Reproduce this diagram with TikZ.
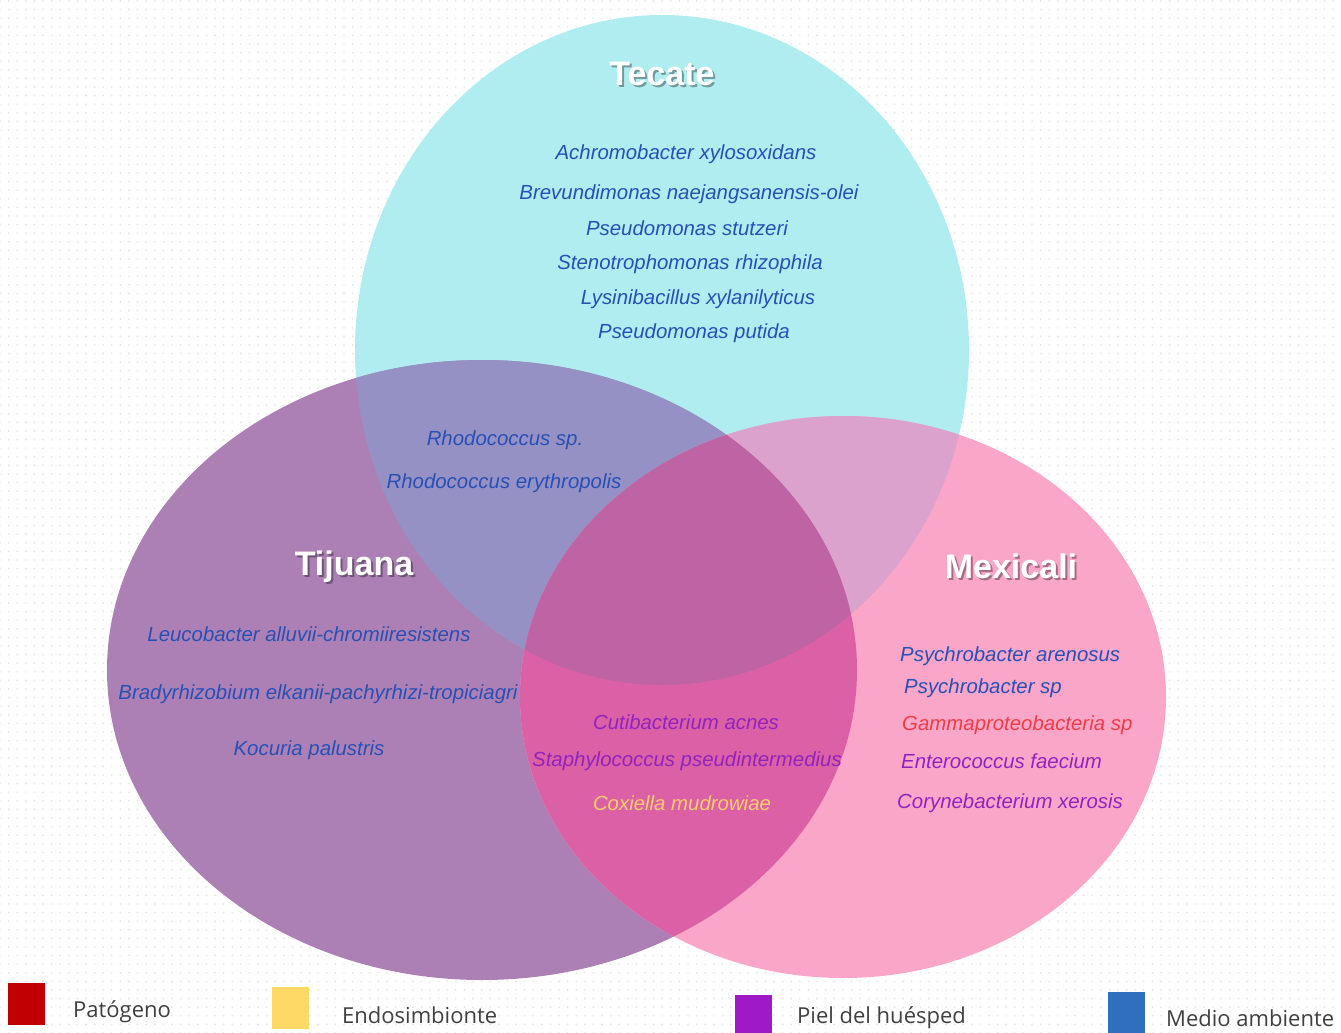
\documentclass[tikz,border=0pt]{standalone}
\usepackage{fontspec}
\setmainfont{Liberation Sans}
\newfontfamily\legendfont{Open Sans}
\usetikzlibrary{patterns.meta}

% region fills
\definecolor{tecfill}{RGB}{176,237,240}
\definecolor{tijfill}{RGB}{172,128,180}
\definecolor{mexfill}{RGB}{250,166,201}
\definecolor{tectij}{RGB}{150,145,196}
\definecolor{tecmex}{RGB}{220,162,206}
\definecolor{tijmex}{RGB}{220,96,165}
\definecolor{tripfill}{RGB}{190,100,165}
% category colours
\definecolor{envblue}{RGB}{40,80,180}
\definecolor{skinpurple}{RGB}{145,35,190}
\definecolor{pathred}{RGB}{240,60,70}
\definecolor{endoyellow}{RGB}{255,205,110}
\definecolor{legred}{RGB}{192,0,0}
\definecolor{legyellow}{RGB}{255,217,102}
\definecolor{legpurple}{RGB}{160,25,200}
\definecolor{legblue}{RGB}{48,110,190}
\definecolor{legtext}{RGB}{64,64,64}
\definecolor{dotgray}{RGB}{228,228,228}

\tikzset{
  species/.style={inner sep=0pt, font=\fontsize{20.4}{24}\itshape\selectfont},
  sitetitle/.style={inner sep=0pt, text=white, font=\fontsize{34}{40}\bfseries\selectfont},
  siteshadow/.style={inner sep=0pt, text=black, opacity=0.35, font=\fontsize{34}{40}\bfseries\selectfont},
  swatch/.style={inner sep=0pt, minimum width=37pt, minimum height=42pt},
  legendlabel/.style={inner sep=0pt, anchor=west, text=legtext, font=\legendfont\fontsize{22}{26}\selectfont},
}

\def\tecate{(662,350) ellipse [x radius=307pt, y radius=335pt]}
\def\tijuana{(482,670) ellipse [x radius=375pt, y radius=310pt]}
\def\mexicali{(843,697) ellipse [x radius=323pt, y radius=281pt]}

\begin{document}
\begin{tikzpicture}[x=1pt,y=-1pt]
\useasboundingbox (0,0) rectangle (1341,1033);
% dotted backdrop
\fill[white] (0,0) rectangle (1341,1033);
\fill[pattern={Dots[distance=8.6pt,radius=0.9pt]}, pattern color=dotgray] (0,0) rectangle (1341,1033);

% the three sets
\fill[tecfill] \tecate;
\fill[tijfill] \tijuana;
\fill[mexfill] \mexicali;
\begin{scope}
  \clip \tecate;
  \fill[tectij] \tijuana;
  \fill[tecmex] \mexicali;
\end{scope}
\begin{scope}
  \clip \tijuana;
  \fill[tijmex] \mexicali;
\end{scope}
\begin{scope}
  \clip \tecate;
  \clip \tijuana;
  \fill[tripfill] \mexicali;
\end{scope}

% set titles with soft shadow
\node[siteshadow] at (664,76) {Tecate};
\node[sitetitle] (tecate) at (662,74) {Tecate};
\node[siteshadow] at (356,569) {Tijuana};
\node[sitetitle] (tijuana) at (354,567) {Tijuana};
\node[siteshadow] at (1013,568) {Mexicali};
\node[sitetitle] (mexicali) at (1011,566) {Mexicali};

% Tecate only
\node[species, text=envblue] (s1) at (686,154) {Achromobacter xylosoxidans};
\node[species, text=envblue] (s2) at (689,194) {Brevundimonas naejangsanensis-olei};
\node[species, text=envblue] (s3) at (687,228) {Pseudomonas stutzeri};
\node[species, text=envblue] (s4) at (690,264) {Stenotrophomonas rhizophila};
\node[species, text=envblue] (s5) at (698,299) {Lysinibacillus xylanilyticus};
\node[species, text=envblue] (s6) at (694,333) {Pseudomonas putida};

% Tecate and Tijuana
\node[species, text=envblue] (s7) at (505,440) {Rhodococcus sp.};
\node[species, text=envblue] (s8) at (504,483) {Rhodococcus erythropolis};

% Tijuana only
\node[species, text=envblue] (s9) at (309,634) {Leucobacter alluvii-chromiiresistens};
\node[species, text=envblue] (s10) at (318,694) {Bradyrhizobium elkanii-pachyrhizi-tropiciagri};
\node[species, text=envblue] (s11) at (309,750) {Kocuria palustris};

% Tijuana and Mexicali
\node[species, text=skinpurple] (s12) at (686,722) {Cutibacterium acnes};
\node[species, text=skinpurple] (s13) at (687,761) {Staphylococcus pseudintermedius};
\node[species, text=endoyellow] (s14) at (682,803) {Coxiella mudrowiae};

% Mexicali only
\node[species, text=envblue, anchor=west] (s15) at (900,656) {Psychrobacter arenosus};
\node[species, text=envblue, anchor=west] (s16) at (904,688) {Psychrobacter sp};
\node[species, text=pathred, anchor=west] (s17) at (902,725) {Gammaproteobacteria sp};
\node[species, text=skinpurple, anchor=west] (s18) at (901,761) {Enterococcus faecium};
\node[species, text=skinpurple, anchor=west] (s19) at (897,803) {Corynebacterium xerosis};

% legend
\node[swatch, fill=legred] (kred) at (26.5,1004) {};
\node[legendlabel] (lred) at (73,1012) {Patógeno};
\node[swatch, fill=legyellow] (kyellow) at (290.5,1008) {};
\node[legendlabel] (lyellow) at (342,1015) {Endosimbionte};
\node[swatch, fill=legpurple] (kpurple) at (753,1016) {};
\node[legendlabel] (lpurple) at (797,1018) {Piel del huésped};
\node[swatch, fill=legblue] (kblue) at (1126.5,1013) {};
\node[legendlabel] (lblue) at (1166,1018) {Medio ambiente};
\end{tikzpicture}
\end{document}
